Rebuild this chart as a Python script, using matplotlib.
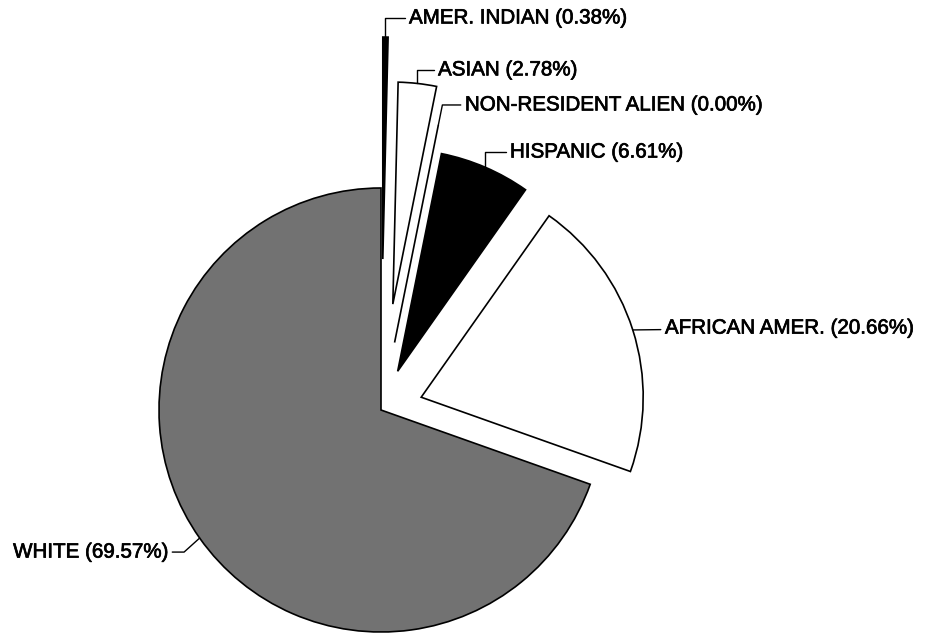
import matplotlib
import matplotlib.pyplot as plt
import matplotlib.patheffects as pe
import numpy as np

matplotlib.use("Agg")
plt.rcParams["font.family"] = ["Liberation Sans", "DejaVu Sans"]

groups = ["AMER. INDIAN", "ASIAN", "NON-RESIDENT ALIEN", "HISPANIC", "AFRICAN AMER.", "WHITE"]
shares = [0.38, 2.78, 0.00, 6.61, 20.66, 69.57]

explode = [0.68, 0.48, 0.31, 0.19, 0.19, 0.0]
colors = ["black", "white", "white", "black", "white", "#727272"]

# label text positions (data units, pie radius = 1), alignment and leader style
text_pos = [(0.126, 1.766), (0.257, 1.532), (0.378, 1.374), (0.581, 1.162), (1.279, 0.369), (-0.959, -0.640)]
text_ha = ["left", "left", "left", "left", "left", "right"]
leaders = [
    "angle,angleA=0,angleB=90,rad=0",
    "angle,angleA=0,angleB=90,rad=0",
    "angle,angleA=0,angleB=78.6,rad=0",
    "angle,angleA=0,angleB=90,rad=0",
    "arc3,rad=0",
    "angle,angleA=0,angleB=42,rad=0",
]

fig = plt.figure(figsize=(9.36, 6.41), dpi=100)
ax = fig.add_axes([0, 0, 1, 1])

wedges, _ = ax.pie(shares, explode=explode, colors=colors, startangle=90,
                   counterclock=False, radius=1,
                   wedgeprops=dict(edgecolor="black", linewidth=1.2))

scale = 222.0
ax.set_xlim(-381 / scale, (936 - 381) / scale)
ax.set_ylim(-(641 - 410) / scale, 410 / scale)
ax.axis("off")

# scanned print looks a touch heavier than the regular face
heavy = [pe.withStroke(linewidth=0.5, foreground="black")]

for w, name, share, pos, ha, style in zip(wedges, groups, shares, text_pos, text_ha, leaders):
    mid = np.deg2rad((w.theta1 + w.theta2) / 2)
    cx, cy = w.center
    anchor = (cx + w.r * np.cos(mid), cy + w.r * np.sin(mid))
    t = ax.annotate(f"{name} ({share:.2f}%)", xy=anchor, xytext=pos,
                    ha=ha, va="center", fontsize=14.8, color="black",
                    arrowprops=dict(arrowstyle="-", connectionstyle=style,
                                    lw=1.0, color="black", shrinkA=1, shrinkB=0))
    t.set_path_effects(heavy)

fig.savefig("out.png", dpi=100)
